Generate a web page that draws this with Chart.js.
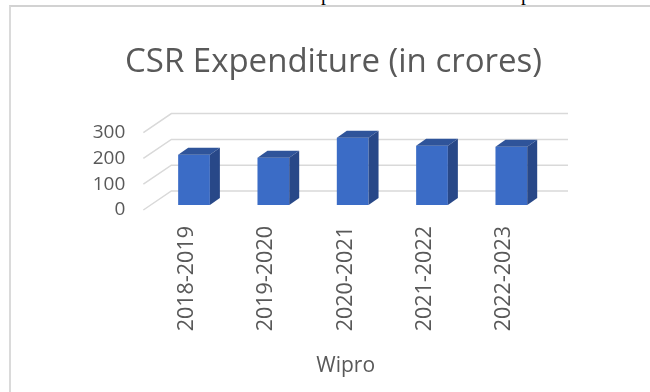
<!DOCTYPE html>
<html>
<head>
<meta charset="utf-8">
<script src="https://cdn.jsdelivr.net/npm/chart.js@4/dist/chart.umd.min.js"></script>
<style>
html,body{margin:0;padding:0;background:#fff;overflow:hidden;width:650px;height:392px;}
#wrap{position:relative;width:650px;height:392px;overflow:hidden;background:#fff;}
#frame{position:absolute;left:9px;top:5px;width:639px;height:385px;border-left:2px solid #dadada;border-top:2px solid #d2d2d2;}
#cut{position:absolute;left:0;top:0;width:650px;height:5px;overflow:hidden;}
#cut span{position:absolute;top:-17px;font:20px "Liberation Serif",serif;color:#000;line-height:20px;}
canvas{position:absolute;left:0;top:0;}
</style>
</head>
<body>
<div id="wrap">
  <div id="cut"><span style="left:321px">p</span><span style="left:521px">p</span></div>
  <div id="frame"></div>
  <canvas id="c" width="650" height="392"></canvas>
</div>
<script>
// ---- data ----
const categories = ['2018-2019', '2019-2020', '2020-2021', '2021-2022', '2022-2023'];
const expenditure = [195, 183, 261, 230, 226];
const yTicks = [0, 100, 200, 300];
const chartTitle = 'CSR Expenditure (in crores)';
const axisTitle = 'Wipro';

// ---- 3D look ----
const WALL = {dx: 24, dy: -19};      // back wall offset from front plane
const SHIFT = {dx: 7, dy: -5};       // bar front face offset into depth
const BAR_D = {dx: 10, dy: -7};      // bar depth
const TEXT = '#595959';

const threeD = {
  id: 'threeD',
  beforeDatasetsDraw(chart) {
    const {ctx, chartArea: a, scales: {y}} = chart;
    ctx.save();
    ctx.strokeStyle = '#d9d9d9';
    ctx.lineWidth = 1.5;
    yTicks.forEach(v => {
      const py = y.getPixelForValue(v);
      ctx.beginPath();
      ctx.moveTo(a.left - 4, py);
      ctx.lineTo(a.left + WALL.dx, py + WALL.dy);
      ctx.lineTo(a.right + WALL.dx, py + WALL.dy);
      ctx.stroke();
    });
    ctx.restore();
    ctx.save();
    ctx.translate(SHIFT.dx, SHIFT.dy);
  },
  afterDatasetsDraw(chart) {
    const {ctx} = chart;
    const meta = chart.getDatasetMeta(0);
    meta.data.forEach(bar => {
      const p = bar.getProps(['x', 'y', 'base', 'width'], true);
      const l = p.x - p.width / 2, r = p.x + p.width / 2, t = p.y, b = p.base;
      ctx.fillStyle = '#2f549a';
      ctx.beginPath();
      ctx.moveTo(l, t); ctx.lineTo(r, t);
      ctx.lineTo(r + BAR_D.dx, t + BAR_D.dy); ctx.lineTo(l + BAR_D.dx, t + BAR_D.dy);
      ctx.closePath(); ctx.fill();
      ctx.fillStyle = '#284888';
      ctx.beginPath();
      ctx.moveTo(r, t); ctx.lineTo(r + BAR_D.dx, t + BAR_D.dy);
      ctx.lineTo(r + BAR_D.dx, b + BAR_D.dy); ctx.lineTo(r, b);
      ctx.closePath(); ctx.fill();
    });
    ctx.restore();
  }
};

new Chart(document.getElementById('c'), {
  type: 'bar',
  data: {
    labels: categories,
    datasets: [{
      data: expenditure,
      backgroundColor: '#3b6cc6',
      borderWidth: 0,
      barPercentage: 0.4,
      categoryPercentage: 1,
      clip: false
    }]
  },
  plugins: [threeD],
  options: {
    responsive: false,
    animation: false,
    devicePixelRatio: 1,
    layout: {padding: {left: 17, right: 0, top: 0, bottom: 0}},
    plugins: {
      legend: {display: false},
      tooltip: {enabled: false},
      title: {
        display: true,
        text: chartTitle,
        color: TEXT,
        font: {family: 'Open Sans', size: 33, weight: 'normal'},
        padding: {top: 43, bottom: 50}
      }
    },
    scales: {
      x: {
        grid: {display: false, drawTicks: false},
        border: {display: false},
        ticks: {
          color: TEXT,
          font: {family: 'Open Sans', size: 21.5},
          minRotation: 90, maxRotation: 90,
          padding: 16
        },
        title: {
          display: true,
          text: axisTitle,
          color: TEXT,
          font: {family: 'Open Sans', size: 21},
          padding: {top: 0, bottom: 13}
        },
        afterFit(s) { s.height = 392 - 210; }
      },
      y: {
        min: 0, max: 300,
        grid: {display: false, drawTicks: false},
        border: {display: false},
        ticks: {
          stepSize: 100,
          autoSkip: false,
          color: TEXT,
          font: {family: 'Open Sans', size: 19},
          padding: 22
        },
        afterFit(s) { s.width = 147.35 - 17; }
      },
      yRight: {
        position: 'right',
        min: 0, max: 300,
        grid: {display: false, drawTicks: false},
        border: {display: false},
        ticks: {display: false},
        afterFit(s) { s.width = 106; }
      }
    }
  }
});
</script>
</body>
</html>
